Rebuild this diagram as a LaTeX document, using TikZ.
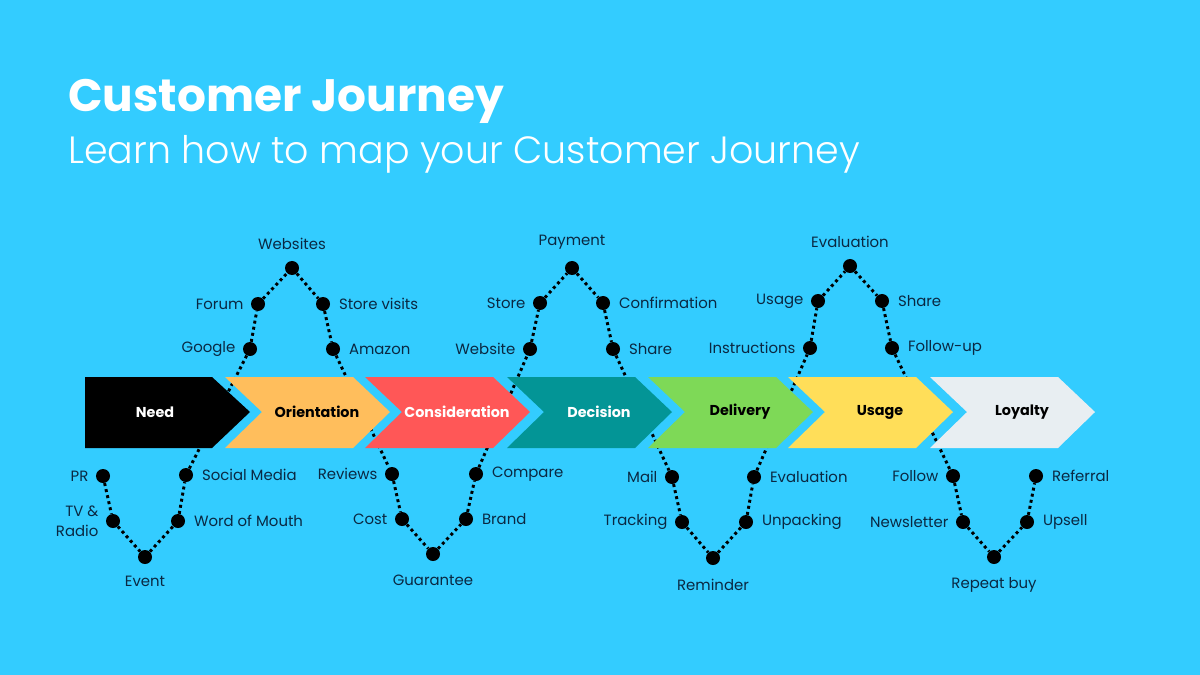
\documentclass[tikz,border=0pt]{standalone}
\usepackage{fontspec}
\setmainfont{Poppins}
\IfFontExistsTF{Poppins Light}{\newfontfamily\lightface{Poppins Light}}{\newfontfamily\lightface{Poppins}}
\usepackage{xcolor}
\usepackage{tikz}
\usetikzlibrary{positioning}

\definecolor{sky}{RGB}{51,204,255}
\definecolor{ink}{RGB}{10,40,66}
\definecolor{orientc}{RGB}{255,190,92}
\definecolor{considc}{RGB}{255,87,87}
\definecolor{decisc}{RGB}{3,149,150}
\definecolor{delivc}{RGB}{126,217,87}
\definecolor{usagec}{RGB}{255,222,89}
\definecolor{loyalc}{RGB}{232,238,242}

\begin{document}
\begin{tikzpicture}[x=0.025cm, y=-0.025cm,
            spot/.style={circle, fill=black, inner sep=0, minimum size=0.35cm},
            touch/.style={font=\fontsize{10.6}{14}\selectfont, text=ink, inner sep=1pt},
            trail/.style={draw=black, line width=2.1pt, dash pattern=on 2.1pt off 2.3pt},
            stagetxt/.style={font=\bfseries\fontsize{10.2}{12}\selectfont},
          ]
          \fill[sky] (0,0) rectangle (1200,675);
          \useasboundingbox (0,0) rectangle (1200,675);

          % --- Title ---
          \node[anchor=base west, inner sep=0, text=white, font=\bfseries\fontsize{32.3}{38}\selectfont] (title) at (68,112) {Customer Journey};
          \node[anchor=base west, inner sep=0, text=white, font=\lightface\fontsize{27}{32}\selectfont] (subtitle) at (68,164) {Learn how to map your Customer Journey};

          % --- Need: lower curve ---
          \node[spot] (pr) at (103,476) {};
          \node[spot] (tv) at (113,521) {};
          \node[spot] (event) at (145,557) {};
          \node[spot] (wom) at (178,521) {};
          \node[spot] (social) at (186,475) {};
          \node[touch, left=4pt of pr] (prtxt) {PR};
          \node[touch, left=4pt of tv, align=right] (tvtxt) {TV \&\\Radio};
          \node[touch, below=7.5pt of event] (eventtxt) {Event};
          \node[touch, right=5pt of wom] (womtxt) {Word of Mouth};
          \node[touch, right=5pt of social] (socialtxt) {Social Media};

          % --- Orientation: upper curve ---
          \node[spot] (google) at (250,349) {};
          \node[spot] (forum) at (258,304) {};
          \node[spot] (webs) at (292,268) {};
          \node[spot] (storev) at (323,304) {};
          \node[spot] (amazon) at (333,349) {};
          \node[touch, left=4pt of google] (googletxt) {Google};
          \node[touch, left=4pt of forum] (forumtxt) {Forum};
          \node[touch, above=7pt of webs] (webstxt) {Websites};
          \node[touch, right=5pt of storev] (storevtxt) {Store visits};
          \node[touch, right=5pt of amazon] (amazontxt) {Amazon};

          % --- Consideration: lower curve ---
          \node[spot] (reviews) at (392,474) {};
          \node[spot] (cost) at (402,519) {};
          \node[spot] (guar) at (433,554) {};
          \node[spot] (brand) at (466,519) {};
          \node[spot] (compare) at (476,474) {};
          \node[touch, left=4pt of reviews] (reviewstxt) {Reviews};
          \node[touch, left=4pt of cost] (costtxt) {Cost};
          \node[touch, below=8.5pt of guar] (guartxt) {Guarantee};
          \node[touch, right=5pt of brand] (brandtxt) {Brand};
          \node[touch, right=5pt of compare] (comparetxt) {Compare};

          % --- Decision: upper curve ---
          \node[spot] (website) at (530,349) {};
          \node[spot] (store) at (540,303) {};
          \node[spot] (payment) at (572,268) {};
          \node[spot] (confirm) at (603,303) {};
          \node[spot] (share) at (613,349) {};
          \node[touch, left=4pt of website] (websitetxt) {Website};
          \node[touch, left=4pt of store] (storetxt) {Store};
          \node[touch, above=7pt of payment] (paymenttxt) {Payment};
          \node[touch, right=5pt of confirm] (confirmtxt) {Confirmation};
          \node[touch, right=5pt of share] (sharetxt) {Share};

          % --- Delivery: lower curve ---
          \node[spot] (mail) at (672,477) {};
          \node[spot] (track) at (682,522) {};
          \node[spot] (remind) at (713,558) {};
          \node[spot] (unpack) at (746,522) {};
          \node[spot] (evald) at (754,477) {};
          \node[touch, left=4pt of mail] (mailtxt) {Mail};
          \node[touch, left=4pt of track] (tracktxt) {Tracking};
          \node[touch, below=8.5pt of remind] (remindtxt) {Reminder};
          \node[touch, right=5pt of unpack] (unpacktxt) {Unpacking};
          \node[touch, right=5pt of evald] (evaldtxt) {Evaluation};

          % --- Usage: upper curve ---
          \node[spot] (instr) at (810,348) {};
          \node[spot] (usage) at (818,301) {};
          \node[spot] (evalu) at (850,266) {};
          \node[spot] (shareu) at (882,301) {};
          \node[spot] (follup) at (892,348) {};
          \node[touch, left=4pt of instr] (instrtxt) {Instructions};
          \node[touch, left=4pt of usage] (usagetxt) {Usage};
          \node[touch, above=7pt of evalu] (evalutxt) {Evaluation};
          \node[touch, right=5pt of shareu] (shareutxt) {Share};
          \node[touch, right=5pt of follup] (folluptxt) {Follow-up};

          % --- Loyalty: lower curve ---
          \node[spot] (follow) at (953,476) {};
          \node[spot] (news) at (963,522) {};
          \node[spot] (repeat) at (994,557) {};
          \node[spot] (upsell) at (1027,522) {};
          \node[spot] (referral) at (1036,476) {};
          \node[touch, left=4pt of follow] (followtxt) {Follow};
          \node[touch, left=4pt of news] (newstxt) {Newsletter};
          \node[touch, below=8.5pt of repeat] (repeattxt) {Repeat buy};
          \node[touch, right=5pt of upsell] (upselltxt) {Upsell};
          \node[touch, right=5pt of referral] (referraltxt) {Referral};

          % --- the dotted journey, behind the stages ---
          \draw[trail] (pr) -- (tv) -- (event) -- (wom) -- (social) -- (google) -- (forum) -- (webs)
            -- (storev) -- (amazon) -- (reviews) -- (cost) -- (guar) -- (brand) -- (compare)
            -- (website) -- (store) -- (payment) -- (confirm) -- (share) -- (mail) -- (track)
            -- (remind) -- (unpack) -- (evald) -- (instr) -- (usage) -- (evalu) -- (shareu)
            -- (follup) -- (follow) -- (news) -- (repeat) -- (upsell) -- (referral);

          % --- Stages ---
          \fill[black] (85,377) -- (212,377) -- (250,412) -- (212,448) -- (85,448) -- cycle;
          \node[stagetxt, text=white] (need) at (155,412) {Need};
          \foreach \x/\col/\txt/\ink [count=\i] in {225/orientc/Orientation/black, 365/considc/Consideration/white,
              507/decisc/Decision/white, 648/delivc/Delivery/black, 788/usagec/Usage/black, 930/loyalc/Loyalty/black}
          {
            \fill[\col] (\x,377) -- ++(128,0) -- ++(37,35) -- ++(-37,36) -- ++(-128,0) -- ++(37,-36) -- cycle;
            \node[stagetxt, text=\ink] (stage\i) at (\x+92,412) {\txt};
          }
        \end{tikzpicture}
\end{document}
